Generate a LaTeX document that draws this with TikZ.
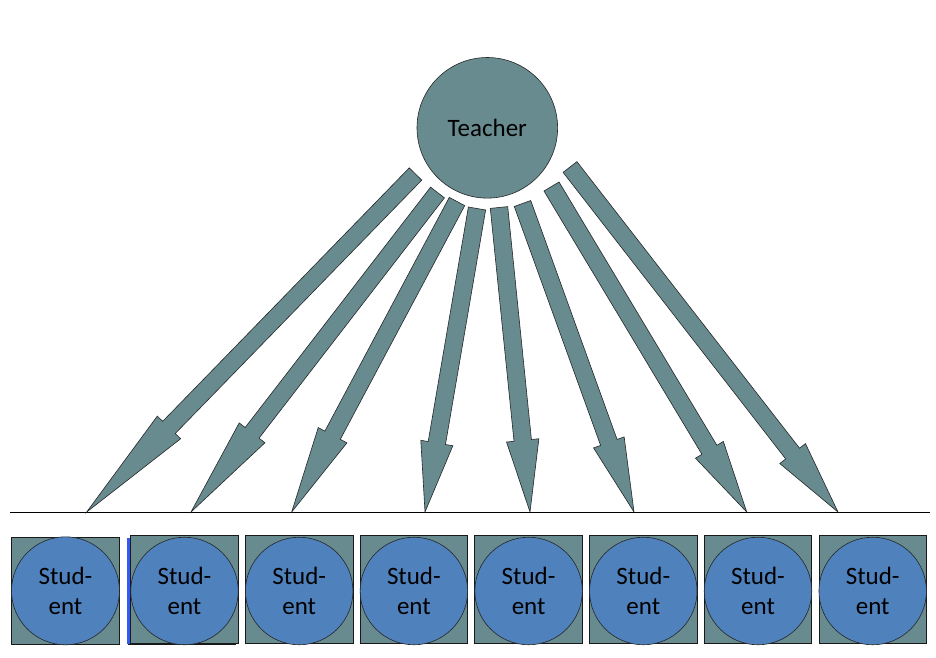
\documentclass[tikz,border=0pt]{standalone}
\usepackage{fontspec}
\setmainfont{Carlito}
\usetikzlibrary{calc}
\definecolor{tealgray}{RGB}{103,139,143}
\definecolor{stublue}{RGB}{79,129,189}
\definecolor{edgeblue}{RGB}{51,90,240}
\newcommand\blkarrow[3]{%
  \coordinate (hb) at ($(#2)!#3pt!(#1)$);
  \filldraw[arrowbody]
    ($(#1)!8.75pt!90:(#2)$) -- ($(hb)!8.75pt!90:(#2)$) -- ($(hb)!16.25pt!90:(#2)$) --
    (#2) -- ($(hb)!16.25pt!-90:(#2)$) -- ($(hb)!8.75pt!-90:(#2)$) --
    ($(#1)!8.75pt!-90:(#2)$) -- cycle;}
\tikzset{
  arrowbody/.style={fill=tealgray, draw=black!85, line width=0.6pt, line join=miter},
  teacherc/.style={circle, fill=tealgray, draw=black!85, line width=0.6pt, minimum size=140.6pt, inner sep=0pt, font=\fontsize{25}{30}\selectfont},
  stubox/.style={rectangle, fill=tealgray, draw=black!90, line width=0.7pt, minimum width=107.6pt, minimum height=107.6pt, inner sep=0pt},
  stucirc/.style={circle, fill=stublue, draw=black!85, line width=0.6pt, minimum size=107.5pt, inner sep=0pt, align=center, font=\fontsize{25}{30}\selectfont},
}
\begin{document}
\begin{tikzpicture}[x=1pt,y=-1pt]
\useasboundingbox (0,0) rectangle (936,657);
\fill[white] (0,0) rectangle (936,657);
% teacher
\node[teacherc] (teacher) at (487.3,127.8) {Teacher};
% baseline
\coordinate (l0) at (10,512);
\coordinate (l1) at (930,512);
\draw[black, line width=0.8pt] (l0) -- (l1);
% arrow tails and tips
\coordinate (t1) at (415.5,174);   \coordinate (p1) at (86.7,512);
\coordinate (t2) at (437.5,192.5); \coordinate (p2) at (191,512);
\coordinate (t3) at (457,201.5);   \coordinate (p3) at (291.7,512);
\coordinate (t4) at (477,208.5);   \coordinate (p4) at (425,512);
\coordinate (t5) at (499,207.5);   \coordinate (p5) at (530,512);
\coordinate (t6) at (522.5,203.5); \coordinate (p6) at (634,512);
\coordinate (t7) at (551.5,186.5); \coordinate (p7) at (746.7,512);
\coordinate (t8) at (570,167);     \coordinate (p8) at (838,512);
\blkarrow{t1}{p1}{118}
\blkarrow{t2}{p2}{100}
\blkarrow{t3}{p3}{87}
\blkarrow{t4}{p4}{70}
\blkarrow{t5}{p5}{72}
\blkarrow{t6}{p6}{74}
\blkarrow{t7}{p7}{72.5}
\blkarrow{t8}{p8}{74}
% students
\node[stubox, minimum height=106.7pt] (b1) at (65.5,590.7) {};
\node[stucirc, minimum size=108pt] (s1) at (65.5,590.8) {Stud-\\ent};
% hidden box behind student 2
\fill[edgeblue] (127,537.5) rectangle (236,644);
\draw[black!90, line width=0.7pt] (128,644) -- (236,644);
\foreach \k in {2,...,8}{
  \pgfmathsetmacro{\cx}{184.5+(\k-2)*114.7}
  \node[stubox] (b\k) at (\cx,589.5) {};
  \node[stucirc] (s\k) at (\cx,591) {Stud-\\ent};
}
\end{tikzpicture}
\end{document}
